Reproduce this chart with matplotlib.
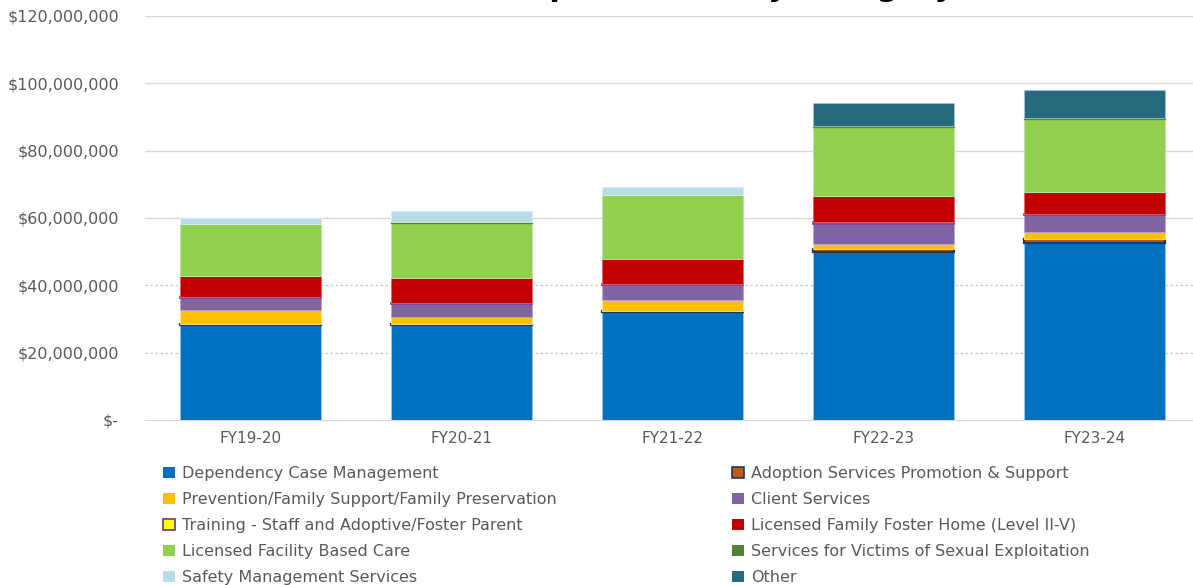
import numpy as np
import matplotlib.pyplot as plt
from matplotlib.patches import Patch

years = ["FY19-20", "FY20-21", "FY21-22", "FY22-23", "FY23-24"]

# values in millions of dollars
dependency = [28.3, 28.3, 32.0, 50.0, 52.5]
adoption = [0.3, 0.3, 0.3, 0.9, 1.4]
prevention = [4.1, 1.9, 3.2, 1.3, 2.0]
client = [3.4, 4.0, 4.6, 6.1, 5.0]
training = [0.4, 0.4, 0.3, 0.5, 0.2]
foster_home = [6.3, 7.2, 7.4, 7.8, 6.5]
facility = [15.5, 16.5, 19.1, 20.4, 21.9]
victims = [0.0, 0.3, 0.0, 0.2, 0.2]
safety = [1.7, 3.2, 2.3, 0.0, 0.0]
other = [0.0, 0.0, 0.0, 6.9, 8.2]

series = [
    ("Dependency Case Management", dependency, "#0070C0", "#9DC3E6", 0.6),
    ("Adoption Services Promotion & Support", adoption, "#C55A11", "#1F3864", 1.6),
    ("Prevention/Family Support/Family Preservation", prevention, "#FFC000", "#FFE699", 0.6),
    ("Client Services", client, "#8064A2", "#B4A7D6", 0.6),
    ("Training - Staff and Adoptive/Foster Parent", training, "#FFFF00", "#7030A0", 1.2),
    ("Licensed Family Foster Home (Level II-V)", foster_home, "#C00000", "#E06666", 0.6),
    ("Licensed Facility Based Care", facility, "#92D050", "#C5E0B4", 0.6),
    ("Services for Victims of Sexual Exploitation", victims, "#548235", "#548235", 1.0),
    ("Safety Management Services", safety, "#B7DEE8", "#DAEEF3", 0.6),
    ("Other", other, "#276A7C", "#9DC3E6", 0.6),
]

fig = plt.figure(figsize=(11.93, 5.85), dpi=100)
W, H = 1193, 585
ax = fig.add_axes([145 / W, (H - 420) / H, 1055 / W, 404 / H])

x = np.arange(len(years))
bottom = np.zeros(len(years))
handles = []
for name, vals, color, edge, lw in series:
    v = np.array(vals) * 1e6
    mask = v > 0
    ax.bar(x[mask], v[mask], 0.67, bottom=bottom[mask], color=color,
           edgecolor=edge, linewidth=lw, zorder=3)
    bottom += v
    handles.append(Patch(facecolor=color, edgecolor=edge if lw > 1 else color,
                         linewidth=1.2 if lw > 1 else 0, label=name))

ax.set_xlim(-0.5, 4.5)
ax.set_ylim(0, 120e6)

# gridlines: solid on top half, dotted on lower half
for level in np.arange(20e6, 121e6, 20e6):
    if level <= 40e6:
        ax.axhline(level, color="#C8C8C8", lw=0.9, ls=(0, (2, 2)), zorder=1)
    else:
        ax.axhline(level, color="#D9D9D9", lw=1.0, zorder=1)

for s in ["top", "right", "left"]:
    ax.spines[s].set_visible(False)
ax.spines["bottom"].set_color("#D9D9D9")

ticks = np.arange(0, 121e6, 20e6)
ax.set_yticks(ticks)
ax.set_yticklabels(["$-"] + [f"${t:,.0f}" for t in ticks[1:]])
ax.set_xticks(x)
ax.set_xticklabels(years)
ax.tick_params(axis="y", length=0, pad=18.7, labelsize=11.5, labelcolor="#595959")
ax.tick_params(axis="x", length=0, pad=8, labelsize=11, labelcolor="#595959")

fig.text(0.80, 1 + 3.5 / H, "Expenditures by Category", ha="right", va="baseline",
         fontsize=22, fontweight="bold")

col1 = [handles[i] for i in (0, 2, 4, 6, 8)]
col2 = [handles[i] for i in (1, 3, 5, 7, 9)]
leg_kw = dict(frameon=False, fontsize=11.5, handlelength=0.7, handleheight=0.7,
              handletextpad=0.45, labelspacing=0.68, labelcolor="#595959",
              loc="upper left")
leg1 = fig.legend(handles=col1, bbox_to_anchor=(149 / W, (H - 452) / H), **leg_kw)
leg2 = fig.legend(handles=col2, bbox_to_anchor=(718 / W, (H - 452) / H), **leg_kw)

fig.savefig("out.png", dpi=100)
